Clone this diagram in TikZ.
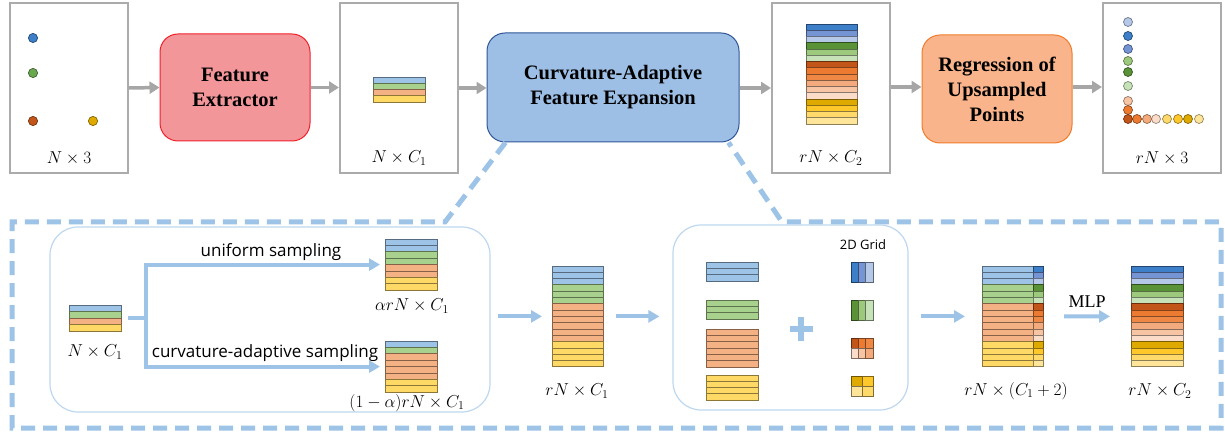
\documentclass[tikz,border=0pt]{standalone}
\usepackage{fontspec}
\setmainfont{Liberation Serif}
\newfontfamily\uisans{Open Sans}
\usetikzlibrary{arrows.meta,calc}

% palette
\definecolor{framegray}{HTML}{ABABAB}
\definecolor{arrowgray}{HTML}{A6A6A6}
\definecolor{feFill}{HTML}{F3969A}
\definecolor{feDraw}{HTML}{F0202A}
\definecolor{cafeFill}{HTML}{9DBFE6}
\definecolor{cafeDraw}{HTML}{2F5597}
\definecolor{regFill}{HTML}{F9B48C}
\definecolor{regDraw}{HTML}{F07B2B}
\definecolor{lineblue}{HTML}{9DC3E6}
\definecolor{groupblue}{HTML}{BDD7EE}
% group colours of the feature rows
\definecolor{lbF}{HTML}{9DC3E6}
\definecolor{grF}{HTML}{A9D18E}
\definecolor{orF}{HTML}{F4B183}
\definecolor{ylF}{HTML}{FFD966}
% expanded feature shades
\definecolor{pA}{HTML}{3D7FC9}
\definecolor{pB}{HTML}{7494D4}
\definecolor{pC}{HTML}{B6C8E8}
\definecolor{pD}{HTML}{5A9238}
\definecolor{pE}{HTML}{9CC97C}
\definecolor{pF}{HTML}{C7E2B8}
\definecolor{pG}{HTML}{C2561A}
\definecolor{pH}{HTML}{EC7A30}
\definecolor{pI}{HTML}{EF8844}
\definecolor{pJ}{HTML}{F3AA7C}
\definecolor{pK}{HTML}{F7C4A4}
\definecolor{pL}{HTML}{FBDCC8}
\definecolor{pM}{HTML}{DEAA00}
\definecolor{pN}{HTML}{FFC82A}
\definecolor{pO}{HTML}{FFDA6A}
\definecolor{pP}{HTML}{FFE59A}
\definecolor{dotGreen}{HTML}{6AA84F}

% a stack of feature rows: name, left, top, width, row height, rows, colours
\newcommand\featstack[7]{%
  \foreach \cc [count=\k from 0] in {#7} {
    \filldraw[fill=\cc, draw=\cc!55!black, line width=0.8pt]
      ({#2},{#3+\k*#5}) rectangle ++({#4},{#5});
  }
  \node[inner sep=0, outer sep=0, anchor=north west,
        minimum width={#4*1pt}, minimum height={#6*#5*1pt}] (#1) at ({#2},{#3}) {};
}
% a grid cell
\newcommand\gcell[5]{%
  \filldraw[fill=#5, draw=#5!50!black, line width=0.8pt] ({#1},{#2}) rectangle ++({#3},{#4});
}

\tikzset{
  frame/.style={draw=framegray, line width=2pt, minimum width=118pt,
    minimum height=170pt, inner sep=0},
  procbox/.style={rounded corners=18pt, minimum width=150pt, minimum height=107pt,
    align=center, font=\fontsize{20.5}{25}\selectfont\bfseries, line width=1pt},
  garrow/.style={draw=arrowgray, line width=3.5pt, -{Triangle[length=10pt,width=12pt]}},
  barrow/.style={draw=lineblue, line width=4pt, -{Triangle[length=11pt,width=12pt]}},
  bline/.style={draw=lineblue, line width=4pt},
  dimlabel/.style={font=\fontsize{18.5}{21}\selectfont, inner sep=0},
  sanslabel/.style={font=\uisans\fontsize{17}{20}\selectfont, inner sep=0},
  group/.style={draw=groupblue, line width=1.2pt, rounded corners=28pt, inner sep=0},
  dashframe/.style={draw=lineblue, line width=5pt, dash pattern=on 14pt off 8pt},
  dotmark/.style={line width=0.7pt},
}

\begin{document}
\begin{tikzpicture}[x=1pt,y=-1pt]
\useasboundingbox (0,0) rectangle (1225,435);

% ---------------- pipeline ----------------
\node[frame] (in) at (69,88) {};
\node[procbox, fill=feFill, draw=feDraw] (fe) at (235,87.5) {Feature\\Extractor};
\node[frame] (f1) at (399,88) {};
\node[procbox, minimum width=252pt, minimum height=109pt, fill=cafeFill,
      draw=cafeDraw] (cafe) at (613,87.5) {Curvature-Adaptive\\Feature Expansion};
\node[frame] (f2) at (831,88) {};
\node[procbox, minimum height=108pt, fill=regFill, draw=regDraw] (reg) at (997,89)
      {Regression of\\Upsampled\\Points};
\node[frame] (out) at (1162,88) {};

\draw[garrow] (in.east) -- (fe.west);
\draw[garrow] (fe.west -| fe.east) -- (fe.east -| f1.west);
\draw[garrow] (f1.east) -- (cafe.west |- f1.east);
\draw[garrow] (cafe.east |- f2.west) -- (f2.west);
\draw[garrow] (f2.east |- 0,87) -- (reg.west |- 0,87);
\draw[garrow] (reg.east |- 0,87) -- (out.west |- 0,87);

% input points
\filldraw[dotmark, fill=pA, draw=pA!60!black] (33,38) circle[radius=4.6pt];
\filldraw[dotmark, fill=dotGreen, draw=dotGreen!60!black] (33,73) circle[radius=4.6pt];
\filldraw[dotmark, fill=pG, draw=pG!60!black] (33,121) circle[radius=4.6pt];
\filldraw[dotmark, fill=pM, draw=pM!60!black] (93,121) circle[radius=4.6pt];

% features
\featstack{sf1}{373}{77}{52}{6.25}{4}{lbF,grF,orF,ylF}
\featstack{sf2}{806}{24}{51}{6.25}{16}{pA,pB,pC,pD,pE,pF,pG,pH,pI,pJ,pK,pL,pM,pN,pO,pP}

% upsampled points
\foreach \yy/\cc in {22/pC,36/pA,49/pB,61/pE,72/pD,86/pF,101/pK,110/pH}
  \filldraw[dotmark, fill=\cc, draw=\cc!60!black] (1128,\yy) circle[radius=4.5pt];
\foreach \xx/\cc in {1199/pP,1188/pM,1178/pN,1167/pO,1156/pL,1147/pJ,1137/pH,1128/pG}
  \filldraw[dotmark, fill=\cc, draw=\cc!60!black] (\xx,119) circle[radius=4.5pt];

\node[dimlabel] (lin) at (69,158) {$N\times 3$};
\node[dimlabel] (lf1) at (399,158) {$N\times C_1$};
\node[dimlabel] (lf2) at (831,158) {$rN\times C_2$};
\node[dimlabel] (lout) at (1162,158) {$rN\times 3$};

% ---------------- expansion detail ----------------
\draw[dashframe] ($(cafe.south west)+(19,0)$) -- (445,222) -- (12,222) -- (12,428)
  -- (1221,428) -- (1221,222) -- (782,222) -- ($(cafe.south east)+(-11,0)$);

\node[group, minimum width=440pt, minimum height=185pt] (g1) at (270,319.5) {};
\node[group, minimum width=235pt, minimum height=185pt] (g2) at (790.5,317.5) {};

% sampling
\featstack{snc}{69}{305}{52}{6.5}{4}{lbF,grF,orF,ylF}
\featstack{sup}{385}{239}{52}{6.4}{8}{lbF,lbF,grF,grF,orF,orF,ylF,ylF}
\featstack{slo}{385}{341}{52}{6.4}{8}{lbF,grF,orF,orF,orF,orF,ylF,ylF}
\coordinate (split) at (146,318);
\draw[bline, shorten <=7pt] (snc.east) -- (split);
\draw[barrow, shorten >=5pt] (split) |- (sup.west);
\draw[barrow, shorten >=5pt] (split) |- (slo.west);
\node[sanslabel] (tuni) at (271,252) {uniform sampling};
\node[sanslabel] (tcur) at (265,353) {curvature-adaptive sampling};
\node[dimlabel] (lnc) at (95,352) {$N\times C_1$};
\node[dimlabel] (lup) at (412,306) {$\alpha rN\times C_1$};
\node[dimlabel] (llo) at (407,403) {$(1-\alpha)rN\times C_1$};

% merged features
\featstack{srn}{552}{266}{51}{6.3}{16}{lbF,lbF,lbF,grF,grF,grF,orF,orF,orF,orF,orF,orF,ylF,ylF,ylF,ylF}
\node[dimlabel] (lrn) at (577,391) {$rN\times C_1$};
\draw[barrow, shorten <=7pt, shorten >=10pt] (g1.east |- srn.west) -- (srn.west);
\draw[barrow, shorten <=13pt, shorten >=13pt] (srn.east) -- (g2.west |- srn.east);

% grouped features and 2D grid
\featstack{gb}{706}{262}{52}{6.33}{3}{lbF,lbF,lbF}
\featstack{gg}{706}{300}{52}{6.33}{3}{grF,grF,grF}
\featstack{go}{706}{329}{52}{6.33}{6}{orF,orF,orF,orF,orF,orF}
\featstack{gy}{706}{375}{52}{6.25}{4}{ylF,ylF,ylF,ylF}
\draw[lineblue, line width=6pt] (801,317.5) -- (801,340.5);
\draw[lineblue, line width=6pt] (789.5,329) -- (812.5,329);
\node[font=\uisans\fontsize{13}{15}\selectfont, inner sep=0] (tgrid) at (863,245) {2D Grid};
\gcell{851}{262}{7.33}{20}{pA}\gcell{858.33}{262}{7.33}{20}{pB}\gcell{865.67}{262}{7.33}{20}{pC}
\gcell{851}{300}{7.33}{20}{pD}\gcell{858.33}{300}{7.33}{20}{pE}\gcell{865.67}{300}{7.33}{20}{pF}
\gcell{851}{338}{7.33}{10}{pG}\gcell{858.33}{338}{7.33}{10}{pH}\gcell{865.67}{338}{7.33}{10}{pI}
\gcell{851}{348}{7.33}{10}{pL}\gcell{858.33}{348}{7.33}{10}{pK}\gcell{865.67}{348}{7.33}{10}{pJ}
\gcell{851}{376}{11}{10}{pM}\gcell{862}{376}{11}{10}{pN}
\gcell{851}{386}{11}{10}{pP}\gcell{862}{386}{11}{10}{pO}

% concatenated features
\featstack{scatA}{982}{266}{51}{6.3}{16}{lbF,lbF,lbF,grF,grF,grF,orF,orF,orF,orF,orF,orF,ylF,ylF,ylF,ylF}
\featstack{scatB}{1033}{266}{10}{6.3}{16}{pA,pB,pC,pD,pE,pF,pG,pH,pI,pJ,pK,pL,pM,pN,pO,pP}
\node[inner sep=0, outer sep=0, anchor=north west, minimum width=61pt,
      minimum height=100.8pt] (scat) at (982,266) {};
\node[dimlabel] (lcat) at (1016,391) {$rN\times (C_1+2)$};
\draw[barrow, shorten <=12pt, shorten >=17pt] (g2.east |- scat.west) -- (scat.west);

% output features
\featstack{so}{1131}{266}{52}{6.3}{16}{pA,pB,pC,pD,pE,pF,pG,pH,pI,pJ,pK,pL,pM,pN,pO,pP}
\node[dimlabel] (lso) at (1160,391) {$rN\times C_2$};
\draw[barrow, shorten <=21pt, shorten >=21pt] (scat.east) -- (so.west);
\node[font=\fontsize{18}{20}\selectfont, inner sep=0] (tmlp) at (1087,302) {MLP};

\end{tikzpicture}
\end{document}
